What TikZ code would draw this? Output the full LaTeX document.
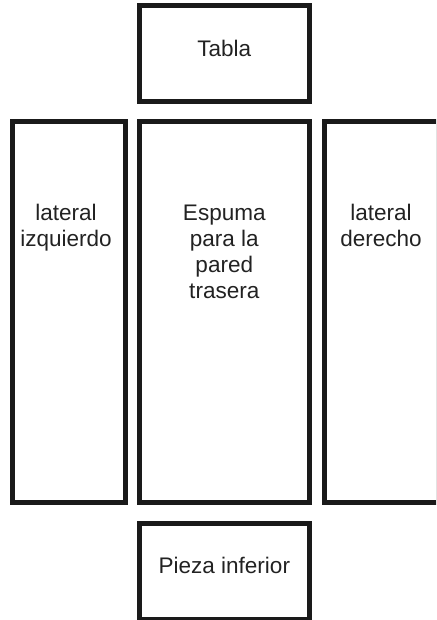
\documentclass[tikz,border=0pt]{standalone}
\usepackage{fontspec}
\setmainfont{Liberation Sans}
\definecolor{ink}{HTML}{1A1A1A}
\definecolor{txt}{HTML}{222222}
\begin{document}
\begin{tikzpicture}[x=0.75pt,y=-0.75pt,
  piece/.style={draw=ink,line width=3.75pt},
  lbl/.style={text=txt,font=\fontsize{16.9}{19.5}\selectfont,align=center,anchor=base,inner sep=0pt}]
\useasboundingbox (0,0) rectangle (436,620);
\begin{scope}
\clip (0,0) rectangle (436,620);
\draw[piece] (139,5.5) rectangle (309.5,101.5) node[midway,coordinate] (tabla) {};
\draw[piece] (12,122) rectangle (125,502.5) node[midway,coordinate] (izq) {};
\draw[piece] (139,122) rectangle (309.5,502.5) node[midway,coordinate] (centro) {};
\draw[piece] (324,122) rectangle (438,502.5) node[midway,coordinate] (der) {};
\draw[piece] (139,523) rectangle (309.5,619) node[midway,coordinate] (inferior) {};
\end{scope}
\node[lbl] (ttabla) at (224.3,56.7) {Tabla};
\node[lbl] (tizq) at (66,246.7) {lateral\\izquierdo};
\node[lbl] (tcentro) at (224.3,298.5) {Espuma\\para la\\pared\\trasera};
\node[lbl] (tder) at (381,246.7) {lateral\\derecho};
\node[lbl] (tinf) at (224.3,573.3) {Pieza inferior};
\end{tikzpicture}
\end{document}
